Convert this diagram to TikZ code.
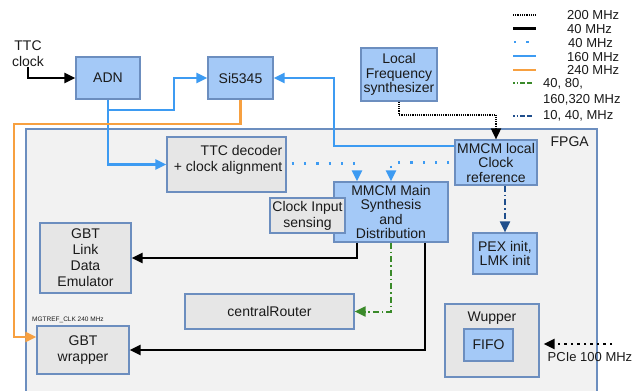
\documentclass[tikz,border=0pt]{standalone}
\usepackage{fontspec}
\setmainfont{Liberation Sans}
\usetikzlibrary{arrows.meta}
\definecolor{boxblue}{HTML}{A4C9F7}
\definecolor{boxgray}{HTML}{E6E6E6}
\definecolor{edgeblue}{HTML}{6C8EBF}
\definecolor{fpgafill}{HTML}{F2F2F2}
\definecolor{lblue}{HTML}{3D9BF2}
\definecolor{lorange}{HTML}{F7A040}
\definecolor{lgreen}{HTML}{3A8A2A}
\definecolor{ldblue}{HTML}{1F4E8C}
\definecolor{txt}{HTML}{1A1A1A}
\tikzset{
  x=1pt, y=-1pt,
  every node/.style={text=txt, font=\fontsize{14}{14.5}\selectfont, inner sep=0pt},
  bluebox/.style={draw=edgeblue, fill=boxblue, line width=1.2pt, align=center},
  graybox/.style={draw=edgeblue, fill=boxgray, line width=1.2pt, align=center},
  tip/.style={-{Triangle[length=11pt,width=10pt]}},
  c200/.style={tip, black, line width=1.8pt, dash pattern=on 1.2pt off 1pt},
  c40/.style={tip, black, line width=2.6pt},
  c40d/.style={tip, lblue, line width=2.3pt, dash pattern=on 2.3pt off 10pt, dash phase=-5pt},
  c160/.style={tip, lblue, line width=2.3pt},
  c240/.style={tip, lorange, line width=2.3pt},
  cgreen/.style={tip, lgreen, line width=2pt, dash pattern=on 6pt off 3pt on 1.5pt off 3pt},
  cdblue/.style={tip, ldblue, line width=2pt, dash pattern=on 6pt off 3pt on 1.5pt off 3pt},
  legtxt/.style={font=\fontsize{13}{16}\selectfont, anchor=west, align=left},
}
\begin{document}
\begin{tikzpicture}
\useasboundingbox (0,0) rectangle (641,391);
% FPGA area
\path[draw=edgeblue, fill=fpgafill, line width=1.2pt] (26,129) rectangle (597,396);
\node[anchor=east, font=\fontsize{14}{16}\selectfont] (fpgalbl) at (589,142) {FPGA};

% nodes
\node[bluebox, minimum width=64pt, minimum height=42pt] (adn) at (108,78) {ADN};
\node[bluebox, minimum width=65pt, minimum height=42pt] (si) at (240.5,78) {Si5345};
\node[bluebox, minimum width=76pt, minimum height=53pt] (lfs) at (399,74.5) {Local\\Frequency\\synthesizer};
\node[graybox, minimum width=119pt, minimum height=55pt] (ttc) at (226.5,164.5) {};
\node[anchor=north east, align=right, font=\fontsize{14}{16}\selectfont] (ttctxt) at ([xshift=-4pt,yshift=-9pt]ttc.north east) {TTC decoder\\+ clock alignment};
\node[bluebox, minimum width=82pt, minimum height=45pt] (mmcml) at (496,162.5) {MMCM local\\Clock\\reference};
\node[bluebox, minimum width=114pt, minimum height=60pt] (mmcmm) at (391,212) {MMCM Main\\Synthesis\\and\\Distribution};
\node[graybox, minimum width=75pt, minimum height=35pt, font=\fontsize{14}{16}\selectfont] (cis) at (307.5,215.5) {Clock Input\\sensing};
\node[bluebox, minimum width=64pt, minimum height=41pt] (pex) at (505,253.5) {PEX init,\\LMK init};
\node[graybox, minimum width=91pt, minimum height=70pt, font=\fontsize{14}{16}\selectfont] (gbtl) at (85.5,258) {GBT\\Link\\Data\\Emulator};
\node[graybox, minimum width=92pt, minimum height=48pt, font=\fontsize{14}{16}\selectfont] (gbtw) at (83,350) {GBT\\wrapper};
\node[anchor=south west, font=\fontsize{6.5}{7}\selectfont] (mgtlbl) at (32,323) {MGTREF\_CLK 240 MHz};
\node[graybox, minimum width=169pt, minimum height=35pt] (cr) at (269.5,311.5) {centralRouter};
\node[graybox, minimum width=94pt, minimum height=73pt] (wup) at (492,340.5) {};
\node[anchor=north] (wuplbl) at ([yshift=-8pt]wup.north) {Wupper};
\node[bluebox, minimum width=49pt, minimum height=32pt] (fifo) at (488.5,345) {FIFO};
\node[align=center, font=\fontsize{14}{16}\selectfont] (ttcclk) at (28,54) {TTC\\clock};
\coordinate (pcie) at (612,344);
\node[font=\fontsize{13}{15}\selectfont] (pcielbl) at (590,357) {PCIe 100 MHz};

% connectors
\draw[c40] (ttcclk.south) |- (adn.west);
\draw[c160] (adn.south) |- (174,110) |- (si.west);
\draw[c160] (adn.south) |- (ttc.west);
\draw[c240] (si.south) |- (14,124) |- ([yshift=13pt]gbtw.west);
\draw[c160] ([yshift=16.5pt]mmcml.west) -| (334,78) -- (si.east);
\draw[c200] (lfs.south) -- ++(0,13) -| (mmcml.north);
\draw[c40d] ([yshift=1pt]ttc.east) -| ([xshift=-34pt]mmcmm.north);
\draw[c40d] (mmcml.west) -| (mmcmm.north);
\draw[cdblue] (pex.north |- mmcml.south) -- (pex.north);
\draw[c40] ([xshift=-34pt]mmcmm.south) |- (gbtl.east);
\draw[c40] ([xshift=34pt]mmcmm.south) |- (gbtw.east);
\draw[cgreen] (mmcmm.south) |- (cr.east);
\draw[c200, dash pattern=on 2.5pt off 4pt, line width=2.4pt] (pcie) -- (wup.east |- pcie) [shorten >=4pt];

% legend
\draw[black, line width=1.6pt, dash pattern=on 1pt off 0.8pt] (513,15) -- (536,15);
\node[legtxt] (l1) at (567,15) {200 MHz};
\draw[black, line width=2.6pt] (513,28.5) -- (536,28.5);
\node[legtxt] (l2) at (567,29) {40 MHz};
\draw[lblue, line width=2.3pt, dash pattern=on 2.3pt off 10pt] (514,42) -- (536,42);
\node[legtxt] (l3) at (568,43) {40 MHz};
\draw[lblue, line width=2.3pt] (513,56) -- (536,56);
\node[legtxt] (l4) at (567,57) {160 MHz};
\draw[lorange, line width=2.3pt] (513,70) -- (536,70);
\node[legtxt] (l5) at (567,70.5) {240 MHz};
\draw[lgreen, line width=2pt, dash pattern=on 1.5pt off 2pt on 1.5pt off 2pt on 5pt off 2pt on 5pt off 20pt] (513,83) -- (536,83);
\node[legtxt] (l6) at (543,92) {40, 80,\\160,320 MHz};
\draw[ldblue, line width=2pt, dash pattern=on 1.5pt off 2pt on 1.5pt off 2pt on 5pt off 2pt on 5pt off 20pt] (513,116) -- (536,116);
\node[legtxt] (l7) at (543,116) {10, 40, MHz};
\end{tikzpicture}
\end{document}
